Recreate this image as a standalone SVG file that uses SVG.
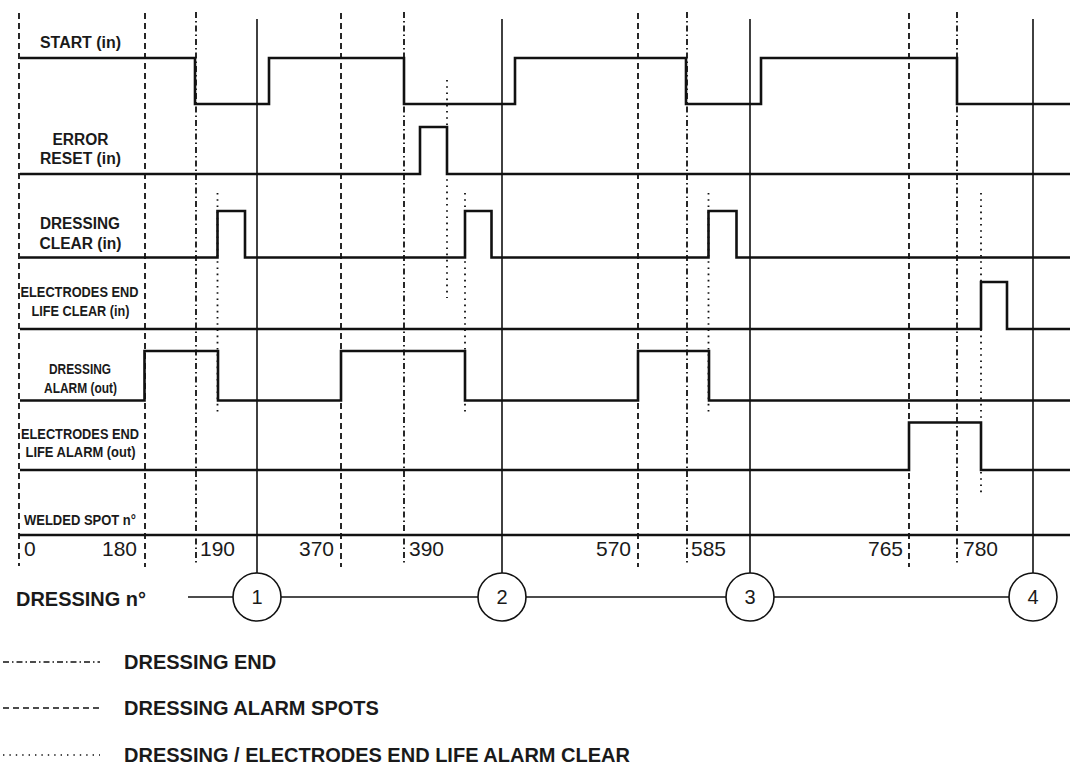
<svg xmlns="http://www.w3.org/2000/svg" width="1070" height="766" viewBox="0 0 1070 766">
<style>
.bg{fill:#fff}
.sig{fill:none;stroke:#111;stroke-width:2.6;stroke-linejoin:miter}
.base{fill:none;stroke:#111;stroke-width:2.4}
.solid{stroke:#111;stroke-width:1.6}
.dash{stroke:#111;stroke-width:1.8;stroke-dasharray:6 4}
.dashdot{stroke:#111;stroke-width:1.8;stroke-dasharray:6 3 1.5 3}
.dot{stroke:#111;stroke-width:1.8;stroke-dasharray:1.6 4.6}
.lbl{font-family:"Liberation Sans",Arial,sans-serif;font-weight:bold;fill:#1a1a1a;text-anchor:middle}
.num{font-family:"Liberation Sans",Arial,sans-serif;font-size:21px;fill:#1a1a1a}
.leg{font-family:"Liberation Sans",Arial,sans-serif;font-weight:bold;font-size:20px;fill:#1a1a1a}
.circ{fill:#fff;stroke:#111;stroke-width:1.6}
.cnum{font-family:"Liberation Sans",Arial,sans-serif;font-size:20px;fill:#1a1a1a;text-anchor:middle}
</style>
<rect class="bg" x="0" y="0" width="1070" height="766"/>

<g id="guides">
  <line class="dash" x1="19" y1="13" x2="19" y2="566"/>
  <line class="dash" x1="145" y1="13" x2="145" y2="567"/>
  <line class="dash" x1="341" y1="13" x2="341" y2="567"/>
  <line class="dash" x1="638" y1="13" x2="638" y2="567"/>
  <line class="dash" x1="909" y1="13" x2="909" y2="567"/>
  <line class="dashdot" x1="196" y1="12" x2="196" y2="565"/>
  <line class="dashdot" x1="404" y1="12" x2="404" y2="565"/>
  <line class="dashdot" x1="687" y1="12" x2="687" y2="565"/>
  <line class="dashdot" x1="957" y1="12" x2="957" y2="565"/>
  <line class="dot" x1="217.5" y1="193" x2="217.5" y2="413"/>
  <line class="dot" x1="465" y1="193" x2="465" y2="413"/>
  <line class="dot" x1="708.5" y1="193" x2="708.5" y2="413"/>
  <line class="dot" x1="447" y1="80" x2="447" y2="298"/>
  <line class="dot" x1="981" y1="193" x2="981" y2="495"/>
</g>

<g id="connectors">
  <line class="solid" x1="257" y1="19" x2="257" y2="573"/>
  <line class="solid" x1="502" y1="19" x2="502" y2="573"/>
  <line class="solid" x1="750" y1="19" x2="750" y2="573"/>
  <line class="solid" x1="1033" y1="19" x2="1033" y2="573"/>
  <line class="solid" x1="188" y1="597" x2="1009" y2="597"/>
</g>

<g id="signals">
  <polyline id="sig-start" class="sig" points="20,58 195,58 195,104 269,104 269,58 404,58 404,104 515,104 515,58 686,58 686,104 761,104 761,58 957,58 957,104 1070,104"/>
  <polyline id="sig-error-reset" class="sig" points="20,174 420,174 420,127 447,127 447,174 1070,174"/>
  <polyline id="sig-dressing-clear" class="sig" points="20,257.5 217.5,257.5 217.5,211 245,211 245,257.5 465,257.5 465,211 491.5,211 491.5,257.5 708.5,257.5 708.5,211 736.5,211 736.5,257.5 1070,257.5"/>
  <polyline id="sig-electrodes-clear" class="sig" points="20,329 981,329 981,282 1007,282 1007,329 1070,329"/>
  <polyline id="sig-dressing-alarm" class="sig" points="20,400.5 144.5,400.5 144.5,351 218,351 218,400.5 341,400.5 341,351 465,351 465,400.5 638,400.5 638,351 709,351 709,400.5 1070,400.5"/>
  <polyline id="sig-electrodes-alarm" class="sig" points="20,470 909,470 909,422.5 981,422.5 981,470 1070,470"/>
  <line id="axis-welded" class="base" x1="19" y1="535" x2="1070" y2="535"/>
</g>

<g id="labels">
  <text class="lbl" x="80.5" y="47.5" font-size="16" textLength="81" lengthAdjust="spacingAndGlyphs">START (in)</text>
  <text class="lbl" x="80.5" y="145" font-size="16" textLength="56" lengthAdjust="spacingAndGlyphs">ERROR</text>
  <text class="lbl" x="80.5" y="164" font-size="16" textLength="81" lengthAdjust="spacingAndGlyphs">RESET (in)</text>
  <text class="lbl" x="80" y="229" font-size="16" textLength="80" lengthAdjust="spacingAndGlyphs">DRESSING</text>
  <text class="lbl" x="80.5" y="249" font-size="16" textLength="82" lengthAdjust="spacingAndGlyphs">CLEAR (in)</text>
  <text class="lbl" x="79.5" y="296.5" font-size="15" textLength="118" lengthAdjust="spacingAndGlyphs">ELECTRODES END</text>
  <text class="lbl" x="80.5" y="316" font-size="15" textLength="98" lengthAdjust="spacingAndGlyphs">LIFE CLEAR (in)</text>
  <text class="lbl" x="80" y="374" font-size="14" textLength="62" lengthAdjust="spacingAndGlyphs">DRESSING</text>
  <text class="lbl" x="80.5" y="393" font-size="14" textLength="73" lengthAdjust="spacingAndGlyphs">ALARM (out)</text>
  <text class="lbl" x="80" y="439" font-size="15" textLength="118" lengthAdjust="spacingAndGlyphs">ELECTRODES END</text>
  <text class="lbl" x="80.5" y="457" font-size="15" textLength="110" lengthAdjust="spacingAndGlyphs">LIFE ALARM (out)</text>
  <text class="lbl" x="24" y="525" font-size="15" text-anchor="start" style="text-anchor:start" textLength="112" lengthAdjust="spacingAndGlyphs">WELDED SPOT n°</text>
</g>

<g id="spot-numbers">
  <text class="num" x="24">
    <tspan x="24" y="556">0</tspan>
  </text>
  <text class="num" x="137" y="556" text-anchor="end">180</text>
  <text class="num" x="200" y="556">190</text>
  <text class="num" x="334" y="556" text-anchor="end">370</text>
  <text class="num" x="409" y="556">390</text>
  <text class="num" x="631" y="556" text-anchor="end">570</text>
  <text class="num" x="691" y="556">585</text>
  <text class="num" x="903" y="556" text-anchor="end">765</text>
  <text class="num" x="963" y="556">780</text>
</g>

<text id="dressing-title" class="leg" x="16" y="606" font-size="21" textLength="130" lengthAdjust="spacingAndGlyphs">DRESSING n°</text>

<g id="dressing-1"><circle class="circ" cx="257" cy="597" r="24"/><text class="cnum" x="257" y="604">1</text></g>
<g id="dressing-2"><circle class="circ" cx="502" cy="597" r="24"/><text class="cnum" x="502" y="604">2</text></g>
<g id="dressing-3"><circle class="circ" cx="750" cy="597" r="24"/><text class="cnum" x="750" y="604">3</text></g>
<g id="dressing-4"><circle class="circ" cx="1033" cy="597" r="24"/><text class="cnum" x="1033" y="604">4</text></g>

<g id="legend">
  <line class="dashdot" x1="3" y1="662" x2="100" y2="662" style="stroke-width:1.3"/>
  <text class="leg" x="124" y="669">DRESSING END</text>
  <line class="dash" x1="3" y1="708" x2="100" y2="708" style="stroke-width:1.3"/>
  <text class="leg" x="124" y="715">DRESSING ALARM SPOTS</text>
  <line class="dot" x1="3" y1="755" x2="100" y2="755" style="stroke-width:1.3;stroke-dasharray:1.4 5"/>
  <text class="leg" x="124" y="762">DRESSING / ELECTRODES END LIFE ALARM CLEAR</text>
</g>
</svg>
